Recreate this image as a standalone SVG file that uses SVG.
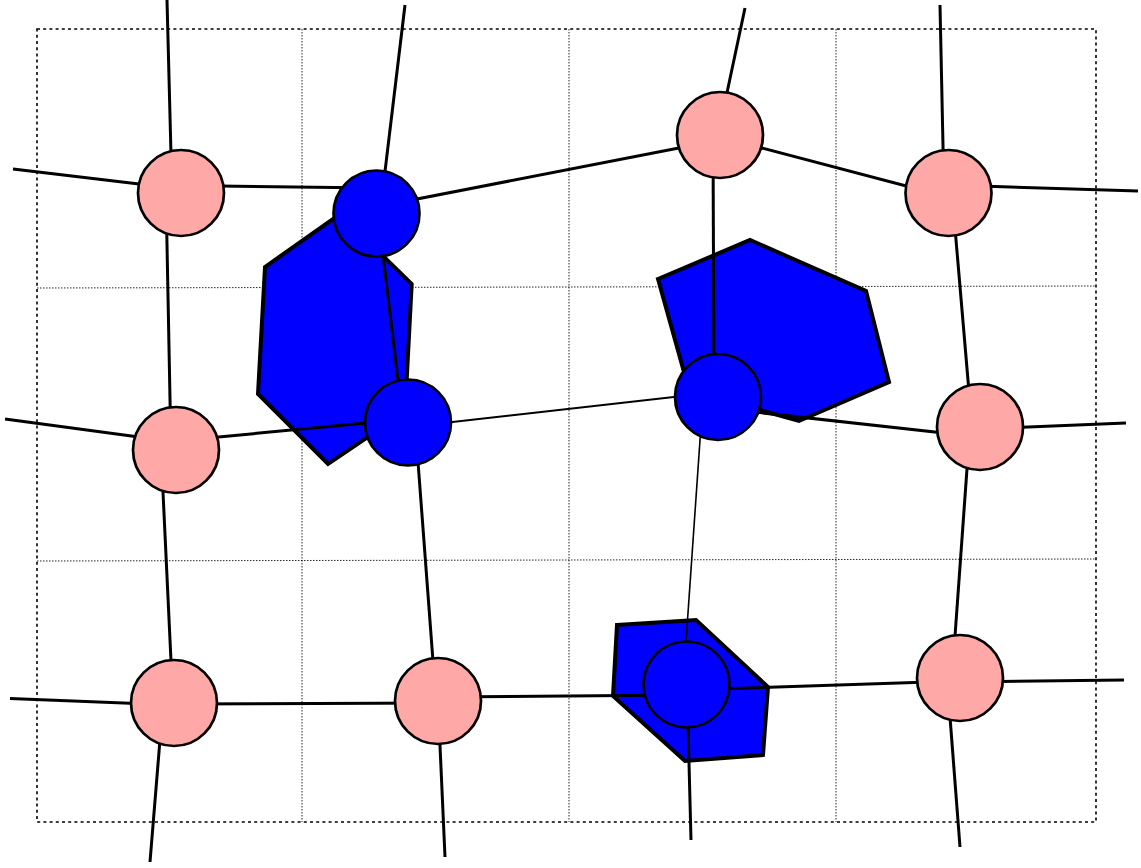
<svg xmlns="http://www.w3.org/2000/svg" width="1141" height="868" viewBox="0 0 1141 868">
<style>
.grid{fill:none;stroke:#000;stroke-width:1;stroke-dasharray:1.5,1.5;opacity:0.85}
.border{fill:none;stroke:#000;stroke-width:1.6;stroke-dasharray:3,3.2}
.poly{fill:#0000ff;stroke:#000;stroke-width:4;stroke-linejoin:miter}
.e{stroke:#000;stroke-width:3;fill:none}
.thin{stroke-width:2}
.thinner{stroke-width:1.6}
.pink{fill:#ffa8a8;stroke:#000;stroke-width:2.7}
.blue{fill:#0000ff;stroke:#000;stroke-width:2.7}
</style>
<rect width="1141" height="868" fill="#fff"/>
<g id="grid">
<line class="grid" x1="302" y1="29" x2="302" y2="822"/>
<line class="grid" x1="569" y1="29" x2="569" y2="822"/>
<line class="grid" x1="836" y1="29" x2="836" y2="822"/>
<line class="grid" x1="37" y1="288" x2="1096" y2="286"/>
<line class="grid" x1="37" y1="561" x2="1096" y2="559"/>
<rect class="border" x="37" y="29" width="1059" height="793"/>
</g>
<g id="regions">
<polygon id="region1" class="poly" points="265,267 258,394 328,464 405,412 411.7,284 340,214"/>
<polygon id="region2" class="poly" points="658,279 750,240 866,291 889,382 799,421 689,390"/>
<polygon id="region3" class="poly" points="617,625 696,620 768,687 763,755 685,761 613,696"/>
</g>
<g id="connectors">
<line class="e" x1="167" y1="0" x2="172" y2="193"/>
<line class="e" x1="13" y1="169" x2="181" y2="189"/>
<line class="e" x1="181" y1="185.5" x2="376" y2="188"/>
<line class="e" x1="166" y1="193" x2="171" y2="450"/>
<line class="e" x1="405" y1="5" x2="380" y2="213"/>
<line class="e" x1="376" y1="207" x2="720" y2="140"/>
<line class="e" x1="378" y1="213" x2="403" y2="422"/>
<line class="e" x1="745" y1="8" x2="718" y2="135"/>
<line class="e" x1="720" y1="137" x2="948" y2="197"/>
<line class="e" x1="713" y1="135" x2="714" y2="397"/>
<line class="e" x1="940" y1="5" x2="944" y2="193"/>
<line class="e" x1="948" y1="185" x2="1138" y2="191"/>
<line class="e" x1="952" y1="193" x2="972" y2="427"/>
<line class="e" x1="5" y1="419" x2="176" y2="442"/>
<line class="e" x1="176" y1="441" x2="408" y2="419"/>
<line class="e" x1="161" y1="450" x2="173" y2="703"/>
<line class="e thin" x1="408" y1="427" x2="718" y2="392"/>
<line class="e" x1="415" y1="422" x2="436" y2="701"/>
<line class="e" x1="718" y1="408" x2="980" y2="437"/>
<line class="e thinner" x1="703" y1="397" x2="683" y2="685"/>
<line class="e" x1="980" y1="429" x2="1126" y2="423"/>
<line class="e" x1="970" y1="427" x2="952" y2="678"/>
<line class="e" x1="10" y1="698.5" x2="174" y2="705"/>
<line class="e" x1="174" y1="704" x2="438" y2="703"/>
<line class="e" x1="150" y1="862" x2="163" y2="703"/>
<line class="e" x1="438" y1="697" x2="686" y2="695"/>
<line class="e" x1="438" y1="701" x2="445" y2="857"/>
<line class="e" x1="686" y1="690" x2="960" y2="681"/>
<line class="e" x1="687" y1="685" x2="691" y2="840"/>
<line class="e" x1="960" y1="682" x2="1124" y2="680"/>
<line class="e" x1="947" y1="678" x2="960" y2="847"/>
</g>
<g id="nodes">
<g id="P1"><circle class="pink" cx="181" cy="193" r="43"/></g>
<g id="P2"><circle class="pink" cx="720" cy="135" r="43"/></g>
<g id="P3"><circle class="pink" cx="948.5" cy="193" r="43"/></g>
<g id="P4"><circle class="pink" cx="176" cy="450" r="43"/></g>
<g id="P5"><circle class="pink" cx="980" cy="427" r="43"/></g>
<g id="P6"><circle class="pink" cx="174" cy="703" r="43"/></g>
<g id="P7"><circle class="pink" cx="438" cy="701" r="43"/></g>
<g id="P8"><circle class="pink" cx="960" cy="678" r="43"/></g>
<g id="B1"><circle class="blue" cx="376.5" cy="213.5" r="43"/></g>
<g id="B2"><circle class="blue" cx="408" cy="422.5" r="43"/></g>
<g id="B3"><circle class="blue" cx="718" cy="397" r="43"/></g>
<g id="B4"><circle class="blue" cx="686.5" cy="684.5" r="43"/></g>
</g>
</svg>
